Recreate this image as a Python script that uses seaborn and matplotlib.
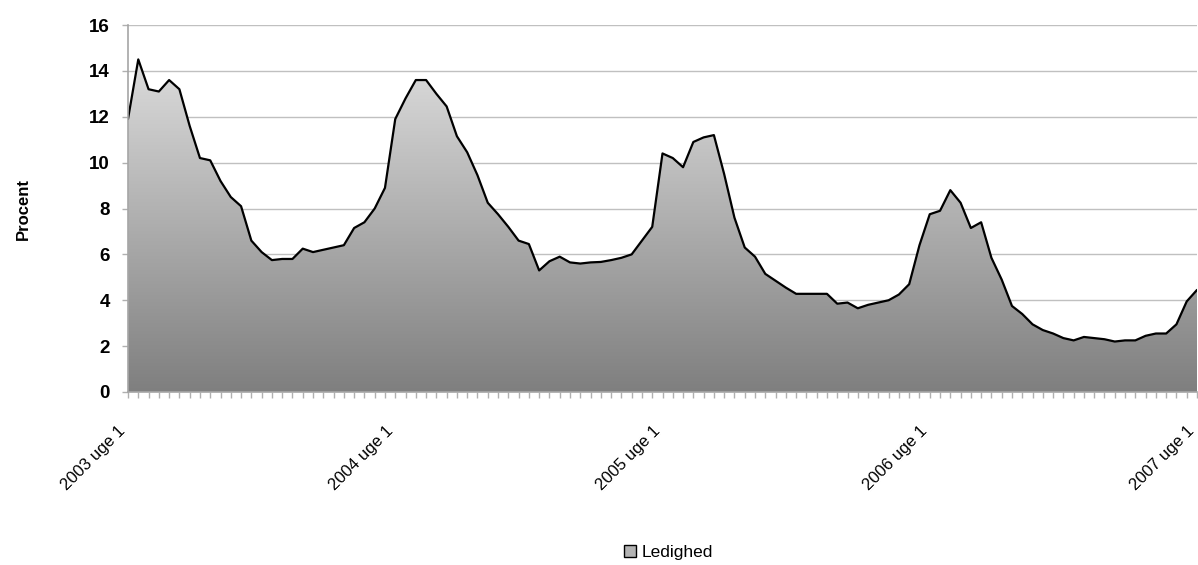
import numpy as np
import pandas as pd
import matplotlib
matplotlib.use("Agg")
import matplotlib.pyplot as plt
import matplotlib.transforms as mtransforms
from matplotlib.colors import LinearSegmentedColormap
from matplotlib.patches import Patch
import seaborn as sns

# Unemployment share (percent), biweekly from 2003 week 1 to 2007 week 1
ledighed = [
    11.9, 14.5, 13.2, 13.1, 13.6, 13.2, 11.6, 10.2, 10.1, 9.2, 8.5, 8.1, 6.6,
    6.1, 5.75, 5.8, 5.8, 6.25, 6.1, 6.2, 6.3, 6.4, 7.15, 7.4, 8.0, 8.9,
    11.9, 12.8, 13.6, 13.6, 13.0, 12.45, 11.15, 10.45, 9.45, 8.25, 7.75, 7.2, 6.6,
    6.45, 5.3, 5.7, 5.9, 5.65, 5.6, 5.65, 5.67, 5.75, 5.85, 6.0, 6.6, 7.2,
    10.4, 10.2, 9.8, 10.9, 11.1, 11.2, 9.5, 7.6, 6.3, 5.9, 5.15, 4.85, 4.55,
    4.28, 4.28, 4.28, 4.28, 3.85, 3.9, 3.65, 3.8, 3.9, 4.0, 4.25, 4.7, 6.4,
    7.75, 7.9, 8.8, 8.25, 7.15, 7.4, 5.85, 4.9, 3.75, 3.4, 2.95, 2.7, 2.55,
    2.35, 2.25, 2.4, 2.35, 2.3, 2.2, 2.25, 2.25, 2.45, 2.55, 2.55, 2.95, 3.95,
    4.45,
]
tick_positions = [0, 26, 52, 78, 104]
tick_labels = ["2003 uge 1", "2004 uge 1", "2005 uge 1", "2006 uge 1", "2007 uge 1"]
series_name = "Ledighed"
y_label = "Procent"

df = pd.DataFrame({"periode": np.arange(len(ledighed)), "procent": ledighed})

sns.set_theme(style="white")
plt.rcParams["font.family"] = ["Liberation Sans", "DejaVu Sans"]
plt.rcParams["text.color"] = "black"
plt.rcParams["xtick.color"] = "black"
plt.rcParams["ytick.color"] = "black"
plt.rcParams["axes.labelcolor"] = "black"

fig = plt.figure(figsize=(11.98, 5.65), dpi=100)
ax = fig.add_axes([128 / 1198, 1 - 392 / 565, 1069 / 1198, 367 / 565])

# gradient-filled area under the curve
grey_cmap = LinearSegmentedColormap.from_list("greys", ["#7f7f7f", "#dcdcdc"])
area = ax.fill_between(df["periode"], 0, df["procent"], facecolor="none",
                       edgecolor="none", zorder=2)
ymax = df["procent"].max()
grad = np.linspace(0, 1, 256).reshape(-1, 1)
img = ax.imshow(grad, cmap=grey_cmap, origin="lower", aspect="auto",
                extent=[0, len(ledighed) - 1, 0, ymax], zorder=2)
img.set_clip_path(area.get_paths()[0], transform=ax.transData)

sns.lineplot(data=df, x="periode", y="procent", color="black", linewidth=1.6,
             ax=ax, zorder=3)

ax.set_xlim(0, len(ledighed) - 1)
ax.set_ylim(0, 16)
ax.set_yticks(np.arange(0, 17, 2))
ax.yaxis.grid(True, color="#c0c0c0", linewidth=1.0)
ax.xaxis.grid(False)
ax.set_axisbelow(True)

for s in ["top", "right"]:
    ax.spines[s].set_visible(False)
for s in ["left", "bottom"]:
    ax.spines[s].set_color("#a6a6a6")
    ax.spines[s].set_linewidth(1.2)
    ax.spines[s].set_zorder(4)

ax.set_xticks(tick_positions)
ax.set_xticklabels(tick_labels, rotation=45, ha="right", rotation_mode="anchor",
                   fontsize=12)
ax.set_xticks(np.arange(len(ledighed)), minor=True)
ax.tick_params(axis="x", which="both", direction="out", length=4, width=1,
               color="#b0b0b0", bottom=True, pad=4)
ax.tick_params(axis="y", which="major", direction="out", length=4, width=1,
               color="#b0b0b0", left=True, labelsize=13.5, pad=9)
for lbl in ax.get_yticklabels():
    lbl.set_fontweight("bold")

# shift the slanted date labels down and to the left of their ticks
offset = mtransforms.ScaledTranslation(-10 / 100, -20 / 100, fig.dpi_scale_trans)
for lbl in ax.get_xticklabels():
    lbl.set_transform(lbl.get_transform() + offset)

ax.set_xlabel("")
ax.set_ylabel(y_label, fontsize=12, fontweight="bold", labelpad=42)

handle = Patch(facecolor="#b3b3b3", edgecolor="black", linewidth=1.0)
fig.legend([handle], [series_name], loc="center", bbox_to_anchor=(0.558, 0.022),
           frameon=False, fontsize=12.5, handlelength=0.7, handleheight=0.7,
           handletextpad=0.3)

fig.savefig("out.png", dpi=100)
